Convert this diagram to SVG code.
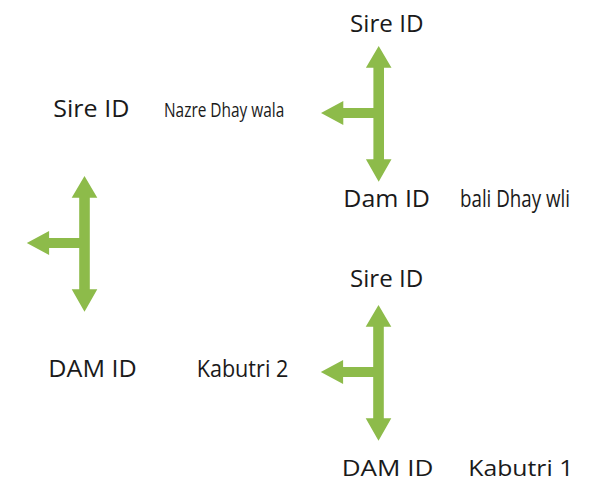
<svg xmlns="http://www.w3.org/2000/svg" xmlns:xlink="http://www.w3.org/1999/xlink" width="611" height="482" viewBox="0 0 611 482">
<style>
.lbl{font-family:"Open Sans","Noto Sans","Liberation Sans",sans-serif;font-size:24px;fill:#1a1a1a}
.bot{font-size:22.5px}
.sm{font-family:"Open Sans","Noto Sans","Liberation Sans",sans-serif;font-size:20px;fill:#1a1a1a}
.arr{fill:#8dbb4a}
</style>
<defs>
<path id="tee" d="M0,0 L12.8,21.7 L5.3,21.7 L5.3,113.3 L12.8,113.3 L0,135.7 L-12.8,113.3 L-5.3,113.3 L-5.3,72 L-35.4,72 L-35.4,79 L-57.7,67 L-35.4,55 L-35.4,62 L-5.3,62 L-5.3,21.7 L-12.8,21.7 Z"/>
</defs>
<rect width="611" height="482" fill="#ffffff"/>
<g id="connectors">
<use xlink:href="#tee" href="#tee" class="arr" transform="translate(378.7,46)"/>
<use xlink:href="#tee" href="#tee" class="arr" transform="translate(84.5,176)"/>
<use xlink:href="#tee" href="#tee" class="arr" transform="translate(378.5,305)"/>
</g>
<g id="sire1"><text class="lbl" x="350" y="31.5" textLength="73.5" lengthAdjust="spacingAndGlyphs">Sire ID</text></g>
<g id="sire-left"><text class="lbl" x="53.3" y="116.7" textLength="76" lengthAdjust="spacingAndGlyphs">Sire ID</text></g>
<g id="nazre"><text class="sm" x="164" y="116.7" textLength="120.3" lengthAdjust="spacingAndGlyphs">Nazre Dhay wala</text></g>
<g id="dam1"><text class="lbl" x="343.3" y="206.7" textLength="86.7" lengthAdjust="spacingAndGlyphs">Dam ID</text></g>
<g id="bali"><text class="lbl" x="460" y="206.7" textLength="110" lengthAdjust="spacingAndGlyphs">bali Dhay wli</text></g>
<g id="sire2"><text class="lbl" x="350" y="286.7" textLength="73.3" lengthAdjust="spacingAndGlyphs">Sire ID</text></g>
<g id="dam-left"><text class="lbl" x="48.3" y="377.3" textLength="88.4" lengthAdjust="spacingAndGlyphs">DAM ID</text></g>
<g id="kabutri2"><text class="lbl" x="196.7" y="377.3" textLength="91.6" lengthAdjust="spacingAndGlyphs">Kabutri 2</text></g>
<g id="dam2"><text class="lbl bot" x="341.7" y="475.5" textLength="91.6" lengthAdjust="spacingAndGlyphs">DAM ID</text></g>
<g id="kabutri1"><text class="lbl bot" x="468.3" y="475.5" textLength="105" lengthAdjust="spacingAndGlyphs">Kabutri 1</text></g>
</svg>
